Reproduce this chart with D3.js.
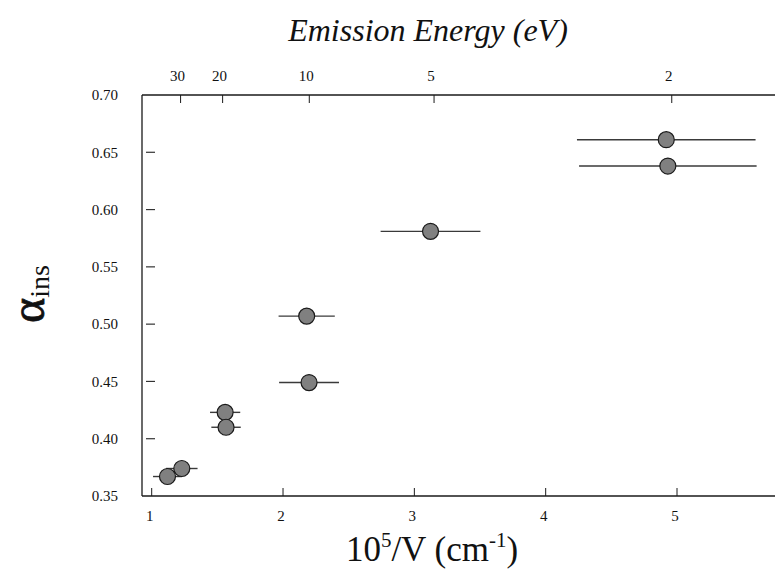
<!DOCTYPE html>
<html>
<head>
<meta charset="utf-8">
<script src="https://cdn.jsdelivr.net/npm/d3@7"></script>
<style>
  html, body { margin: 0; padding: 0; background: #fff; }
  svg { display: block; }
  text { font-family: "Liberation Serif", "Times New Roman", serif; fill: #111; }
</style>
</head>
<body>
<svg id="chart" width="775" height="572"></svg>
<script>
// Inverse field 10^5/V (cm^-1) for each measurement
const invField = [1.124, 1.233, 1.563, 1.570, 2.184, 2.202, 3.127, 4.922, 4.934];
// Insulating fraction alpha_ins
const alphaIns = [0.367, 0.374, 0.423, 0.410, 0.507, 0.449, 0.581, 0.661, 0.638];
// Half-width of the horizontal error bar, in 10^5/V units
const invFieldErr = [0.11, 0.12, 0.115, 0.112, 0.214, 0.228, 0.38, 0.68, 0.676];

// Bottom axis ticks
const bottomTicks = [1, 2, 3, 4, 5];
// Left axis ticks
const leftTicks = [0.35, 0.40, 0.45, 0.50, 0.55, 0.60, 0.65, 0.70];
// Top axis: emission energy labels and where they fall on the 10^5/V scale
const energyLabels = [30, 20, 10, 5, 2];
const energyAt = [1.22, 1.54, 2.20, 3.15, 4.96];

const svg = d3.select("#chart");
const plotLeft = 142, plotRight = 775, plotTop = 95, plotBottom = 496;

const x = d3.scaleLinear().domain([0.93, 5.75]).range([plotLeft, plotRight]);
const y = d3.scaleLinear().domain([0.35, 0.70]).range([plotBottom, plotTop]);

const ink = "#1a1a1a";

// Spines: left, bottom and top (no right spine)
svg.append("line").attr("x1", plotLeft).attr("x2", plotLeft).attr("y1", plotTop).attr("y2", plotBottom)
  .attr("stroke", ink).attr("stroke-width", 1.3);
svg.append("line").attr("x1", plotLeft).attr("x2", plotRight).attr("y1", plotBottom).attr("y2", plotBottom)
  .attr("stroke", ink).attr("stroke-width", 1.3);
svg.append("line").attr("x1", plotLeft).attr("x2", plotRight).attr("y1", plotTop).attr("y2", plotTop)
  .attr("stroke", ink).attr("stroke-width", 1.3);

// Bottom axis: ticks point up into the plot
const bottomAxis = d3.axisBottom(x).tickValues(bottomTicks).tickFormat(d3.format("d"))
  .tickSizeInner(-8).tickSizeOuter(0).tickPadding(14);
const gb = svg.append("g").attr("transform", `translate(0,${plotBottom})`).call(bottomAxis);
gb.select(".domain").remove();
gb.selectAll(".tick line").attr("stroke", ink).attr("stroke-width", 1);
gb.selectAll(".tick text").attr("font-size", 15).attr("dx", -2)
  .style("font-family", "Liberation Serif, serif").attr("fill", "#111");

// Top axis: emission energy, ticks point down into the plot
const topAxis = d3.axisTop(x).tickValues(energyAt)
  .tickFormat((d, i) => energyLabels[i])
  .tickSizeInner(-8).tickSizeOuter(0).tickPadding(14);
const gt = svg.append("g").attr("transform", `translate(0,${plotTop})`).call(topAxis);
gt.select(".domain").remove();
gt.selectAll(".tick line").attr("stroke", ink).attr("stroke-width", 1);
gt.selectAll(".tick text").attr("font-size", 15).attr("dx", -3)
  .style("font-family", "Liberation Serif, serif").attr("fill", "#111");

// Left axis: short marks drawn just inside the spine, labels to the left
const leftAxis = d3.axisLeft(y).tickValues(leftTicks).tickFormat(d3.format(".2f"))
  .tickSize(0).tickPadding(24);
const gl = svg.append("g").attr("transform", `translate(${plotLeft},0)`).call(leftAxis);
gl.select(".domain").remove();
gl.selectAll(".tick text").attr("font-size", 15)
  .style("font-family", "Liberation Serif, serif").attr("fill", "#111");
svg.append("g").selectAll("line")
  .data(leftTicks.filter(v => v > 0.35 && v < 0.70))
  .join("line")
  .attr("x1", plotLeft + 4).attr("x2", plotLeft + 13)
  .attr("y1", d => y(d)).attr("y2", d => y(d))
  .attr("stroke", "#333").attr("stroke-width", 1.2);

// Error bars and markers
const pts = invField.map((v, i) => ({ x: v, y: alphaIns[i], e: invFieldErr[i] }));
svg.append("g").selectAll("line")
  .data(pts).join("line")
  .attr("x1", d => x(d.x - d.e)).attr("x2", d => x(d.x + d.e))
  .attr("y1", d => y(d.y)).attr("y2", d => y(d.y))
  .attr("stroke", "#3a3a3a").attr("stroke-width", 1.4);
svg.append("g").selectAll("circle")
  .data(pts).join("circle")
  .attr("cx", d => x(d.x)).attr("cy", d => y(d.y)).attr("r", 8)
  .attr("fill", "#808080").attr("stroke", "#1a1a1a").attr("stroke-width", 1.2);

// Axis titles
svg.append("text")
  .attr("x", 428).attr("y", 41)
  .attr("text-anchor", "middle")
  .attr("font-size", 32).attr("font-style", "italic")
  .text("Emission Energy (eV)");

const xt = svg.append("text")
  .attr("x", 432).attr("y", 561)
  .attr("text-anchor", "middle")
  .attr("font-size", 35);
xt.append("tspan").text("10");
xt.append("tspan").attr("font-size", 21).attr("dy", -14).text("5");
xt.append("tspan").attr("dy", 14).text("/V (cm");
xt.append("tspan").attr("font-size", 21).attr("dy", -14).text("-1");
xt.append("tspan").attr("dy", 14).text(")");

const yt = svg.append("text")
  .attr("transform", "translate(44,294) rotate(-90)")
  .attr("text-anchor", "middle");
yt.append("tspan").attr("font-size", 48)
  .attr("stroke", "#111").attr("stroke-width", 0.8).text("α");
yt.append("tspan").attr("font-size", 28).attr("dy", 5).text("ins");
</script>
</body>
</html>
